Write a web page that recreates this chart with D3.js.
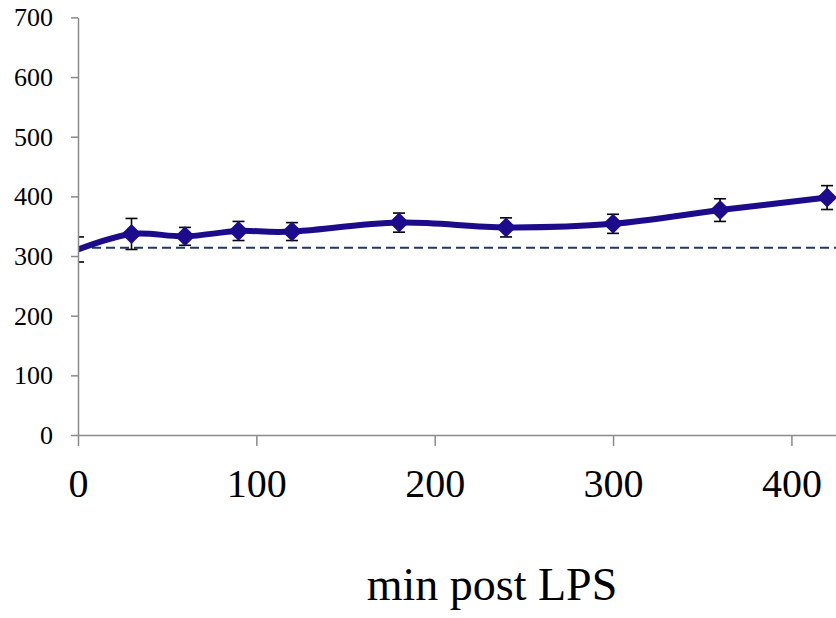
<!DOCTYPE html>
<html>
<head>
<meta charset="utf-8">
<script src="https://cdn.jsdelivr.net/npm/d3@7"></script>
<style>
  html, body { margin: 0; padding: 0; background: #fff; }
  svg { display: block; }
  text { font-family: "Liberation Serif", "Times New Roman", serif; fill: #000; }
</style>
</head>
<body>
<svg id="chart" width="836" height="618"></svg>
<script>
// Time course: minutes after LPS, group mean with SEM
const minutes = [0, 30, 60, 90, 120, 180, 240, 300, 360, 420];
const meanValues = [311, 337, 333, 342, 341, 356, 348, 354, 377, 398];
const semValues = [21, 26, 15, 16, 15, 16, 16, 16, 19, 20];
const baselineValue = [314];
const xTickValues = [0, 100, 200, 300, 400];
const yTickValues = [0, 100, 200, 300, 400, 500, 600, 700];
const xAxisTitle = "min post LPS";

const rows = minutes.map((t, i) => ({ t, mean: meanValues[i], sem: semValues[i] }));

const svg = d3.select("#chart");
const W = 836, H = 618;
svg.append("rect").attr("width", W).attr("height", H).attr("fill", "#fff");

const x = d3.scaleLinear().domain([0, 425]).range([78, 836]);
const y = d3.scaleLinear().domain([0, 700]).range([435, 17.4]);

const lineColor = "#1c0c8c";
const axisColor = "#8a8a8a";

// plot-area clip
svg.append("defs").append("clipPath").attr("id", "plot")
  .append("rect").attr("x", x(0)).attr("y", 0).attr("width", W - x(0)).attr("height", H);

const plot = svg.append("g").attr("clip-path", "url(#plot)");

// dashed reference level
plot.selectAll("line.ref").data(baselineValue).join("line")
  .attr("class", "ref")
  .attr("x1", x(0)).attr("x2", W)
  .attr("y1", d => y(d)).attr("y2", d => y(d))
  .attr("stroke", "#1f3864").attr("stroke-width", 2)
  .attr("stroke-dasharray", "9,5");

// error bars
const capHalf = 6;
const eb = plot.append("g").attr("stroke", "#000").attr("stroke-width", 1.6);
eb.selectAll("line.stem").data(rows).join("line")
  .attr("x1", d => x(d.t)).attr("x2", d => x(d.t))
  .attr("y1", d => y(d.mean + d.sem)).attr("y2", d => y(d.mean - d.sem));
eb.selectAll("line.top").data(rows).join("line")
  .attr("x1", d => x(d.t) - capHalf).attr("x2", d => x(d.t) + capHalf)
  .attr("y1", d => y(d.mean + d.sem)).attr("y2", d => y(d.mean + d.sem));
eb.selectAll("line.bot").data(rows).join("line")
  .attr("x1", d => x(d.t) - capHalf).attr("x2", d => x(d.t) + capHalf)
  .attr("y1", d => y(d.mean - d.sem)).attr("y2", d => y(d.mean - d.sem));

// smoothed series line
const line = d3.line()
  .x(d => x(d.t)).y(d => y(d.mean))
  .curve(d3.curveCardinal.tension(0));
plot.append("path").datum(rows)
  .attr("d", line)
  .attr("fill", "none")
  .attr("stroke", lineColor)
  .attr("stroke-width", 6)
  .attr("stroke-linejoin", "round");

// diamond markers
const diamond = d3.symbol().type(d3.symbolSquare).size(200);
plot.selectAll("path.marker").data(rows.slice(1)).join("path")
  .attr("class", "marker")
  .attr("d", diamond)
  .attr("transform", d => `translate(${x(d.t)},${y(d.mean)}) rotate(45)`)
  .attr("fill", lineColor);

// axes
const yAxis = svg.append("g")
  .attr("transform", `translate(${x(0)},0)`)
  .call(d3.axisLeft(y).tickValues(yTickValues).tickSize(7).tickSizeOuter(0).tickPadding(18));
const xAxis = svg.append("g")
  .attr("transform", `translate(0,${y(0)})`)
  .call(d3.axisBottom(x).tickValues(xTickValues).tickSize(11).tickSizeOuter(0).tickPadding(23));

[yAxis, xAxis].forEach(g => {
  g.select(".domain").attr("stroke", axisColor).attr("stroke-width", 1.5);
  g.selectAll(".tick line").attr("stroke", axisColor).attr("stroke-width", 1.5);
});
yAxis.selectAll(".tick text")
  .attr("font-family", "Liberation Serif, Times New Roman, serif")
  .attr("font-size", 26).attr("fill", "#000");
xAxis.selectAll(".tick text")
  .attr("font-family", "Liberation Serif, Times New Roman, serif")
  .attr("font-size", 40).attr("fill", "#000");

// axis title
svg.append("text")
  .attr("x", 492).attr("y", 600)
  .attr("text-anchor", "middle")
  .attr("font-size", 46)
  .text(xAxisTitle);
</script>
</body>
</html>
